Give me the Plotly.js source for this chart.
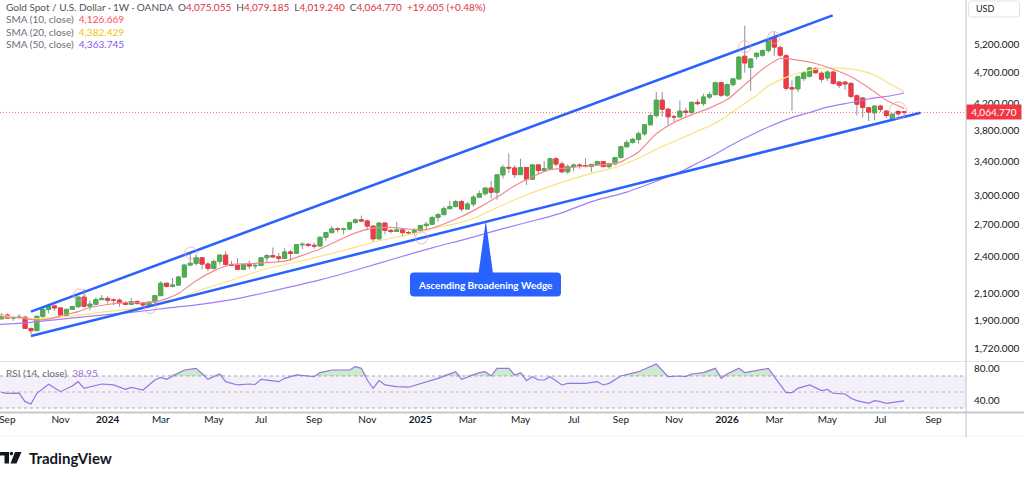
<!DOCTYPE html>
<html>
<head>
<meta charset="utf-8">
<script src="https://cdn.plot.ly/plotly-3.0.1.min.js"></script>
<style>
html,body{margin:0;padding:0;background:#ffffff;}
#chart{width:1024px;height:480px;}
</style>
</head>
<body>
<div id="chart"></div>
<script>
// ---------- DATA (weekly bars, index 0 = week of 28 Aug 2023) ----------
const opens = [1914,1940,1919,1924,1925,1848,1833,1932,1981,2006,1992,1940,1981,2001,2072,2004,2019,2053,2062,2049,
2049,2029,2018,2039,2024,2013,2035,2083,2179,2155,2165,2230,2329,2344,2392,2337,2301,2360,2415,2334,
2327,2293,2333,2322,2326,2392,2411,2400,2387,2443,2431,2508,2512,2503,2497,2577,2622,2658,2653,2657,
2721,2747,2736,2685,2563,2715,2643,2633,2648,2622,2621,2640,2690,2703,2770,2800,2861,2883,2936,2858,
2910,2984,3022,3085,3037,3237,3327,3319,3240,3325,3187,3357,3289,3310,3433,3368,3274,3337,3355,3350,
3337,3363,3398,3336,3371,3448,3586,3643,3685,3760,3886,4018,4251,4113,4002,4000,4084,4065,4218,4198,
4300,4338,4530,4330,4500,4595,4990,4790,4990,5010,5095,5340,5150,5000,4450,4430,4600,4640,4770,4690,
4610,4710,4540,4540,4520,4320,4285,4135,4060,4160,4085,3975,4080,4075.055];
const highs = [1953,1953,1933,1947,1936,1853,1933,1997,2009,2010,1993,1988,2008,2075,2135,2047,2070,2088,2078,2062,
2061,2041,2065,2049,2032,2041,2088,2195,2185,2222,2236,2330,2431,2418,2393,2354,2378,2422,2450,2364,
2388,2342,2368,2340,2393,2424,2484,2432,2477,2462,2509,2531,2525,2529,2586,2626,2686,2673,2670,2722,
2758,2790,2750,2686,2721,2721,2657,2726,2665,2638,2665,2697,2726,2786,2817,2886,2942,2955,2956,2930,
3004,3057,3086,3167,3245,3358,3500,3352,3435,3326,3366,3366,3403,3447,3452,3398,3365,3375,3375,3439,
3363,3409,3405,3379,3453,3600,3675,3707,3791,3897,4059,4381,4382,4135,4030,4245,4135,4230,4265,4353,
4380,4550,4550,4520,4610,4990,5580,4960,5060,5120,5320,5450,5190,5030,4570,4650,4730,4800,4800,4720,
4740,4740,4560,4560,4540,4340,4300,4150,4175,4180,4100,4045,4100,4079.185];
const lows = [1913,1915,1901,1913,1846,1810,1833,1908,1953,1970,1932,1931,1976,1993,1993,1973,2016,2050,2024,2013,
2002,2010,2016,2016,1984,2010,2024,2083,2146,2146,2163,2228,2325,2325,2292,2277,2291,2332,2325,2323,
2286,2287,2295,2293,2319,2353,2392,2353,2381,2364,2430,2470,2488,2472,2485,2546,2614,2624,2604,2646,
2708,2728,2643,2536,2563,2605,2613,2631,2583,2603,2596,2634,2656,2696,2730,2792,2860,2877,2832,2858,
2880,2982,3000,2970,2957,3194,3260,3202,3240,3120,3180,3245,3283,3294,3340,3255,3248,3283,3310,3325,
3268,3352,3331,3311,3351,3436,3578,3628,3630,3735,3884,3990,4004,3886,3930,3995,3997,4040,4170,4165,
4270,4330,4300,4300,4470,4590,4700,4400,4930,4980,5060,5000,4980,4400,4090,4380,4560,4620,4680,4540,
4560,4500,4440,4415,4280,4020,3990,3940,3950,4070,3980,3950,4010,4019.24];
const closes = [1940,1919,1924,1925,1848,1833,1932,1981,2006,1992,1940,1981,2001,2072,2004,2019,2053,2062,2049,2049,
2029,2018,2039,2024,2013,2035,2083,2179,2155,2165,2230,2329,2344,2392,2337,2301,2360,2415,2334,2327,
2293,2333,2322,2326,2392,2411,2400,2387,2443,2431,2508,2512,2503,2497,2577,2622,2658,2653,2657,2721,
2747,2736,2685,2563,2715,2643,2633,2648,2622,2621,2640,2690,2703,2770,2800,2861,2883,2936,2858,2910,
2984,3022,3085,3037,3237,3327,3319,3240,3325,3187,3357,3289,3310,3433,3368,3274,3337,3355,3350,3337,
3363,3398,3336,3371,3448,3586,3643,3685,3760,3886,4018,4251,4113,4002,4000,4084,4065,4218,4198,4300,
4338,4530,4330,4500,4595,4975,4870,4940,5045,5095,5290,5160,5010,4440,4430,4630,4700,4780,4700,4590,
4710,4520,4490,4510,4310,4190,4140,4070,4160,4110,4020,4040,4045.165,4064.77];

// time axis labels (bar index of first weekly bar of each labelled month)
const tickBars   = [1,10,18,27,36,44,53,62,71,79,88,97,105,114,123,131,140,149,158];
const tickLabels = ["Sep","Nov","<b>2024</b>","Mar","May","Jul","Sep","Nov","<b>2025</b>","Mar","May","Jul","Sep","Nov","<b>2026</b>","Mar","May","Jul","Sep"];

// price scale ticks
const priceTicks = [1720,1900,2100,2400,2700,3000,3400,3800,4200,4700,5200];

// moving averages (bar index, value)
const sma10Bars = [-0.25,3,6,8,10,13,15,18,21,24,27,30,33,36,39,42,45,48,51,54,57,60,63,66,69,72,75,78,81,84,87,90,93,96,99,102,105,108,111,114,117,120,123,126,129,132,135,138,141,144,147,150,153];
const sma10Vals = [1925,1922,1905,1912,1935,1965,1995,2017,2033,2030,2045,2100,2200,2280,2334,2341,2350,2363,2413,2470,2545,2620,2665,2672,2655,2650,2705,2780,2875,2985,3110,3215,3300,3320,3342,3360,3395,3520,3760,3920,4030,4130,4260,4500,4760,4950,4920,4860,4760,4630,4450,4250,4126.669];
const sma20Bars = [-0.25,5,11,17,22,28,34,40,44,50,56,61,64,67,70,73,77,80,83,89,95,100,104,108,112,115,118,120,122,125,128,130,133,136,139,142,145,148,151,153];
const sma20Vals = [1940,1915,1930,1962,1985,2030,2130,2220,2285,2355,2430,2500,2545,2580,2615,2660,2710,2760,2845,3010,3150,3255,3325,3440,3590,3690,3800,3870,3960,4140,4330,4480,4620,4720,4775,4780,4750,4660,4490,4382.429];
const sma50Bars = [-0.25,5,11,17,22,28,34,40,47,54,61,67,73,79,85,91,95,100,106,112,115,118,120,124,127,130,134,137,140,144,147,151,153];
const sma50Vals = [1875,1890,1915,1940,1960,1990,2020,2060,2130,2206,2300,2390,2480,2565,2660,2750,2818,2936,3040,3190,3270,3380,3450,3620,3740,3855,3990,4065,4145,4215,4270,4325,4363.745];

// RSI (14)
const rsiBars = [0,1,3,4,5,6,8,10,12,13,14,17,19,21,22,24,26,27,28,31,33,35,37,38,40,42,43,44,47,48,50,53,54,56,59,60,61,62,63,64,65,67,69,71,74,77,78,81,82,83,84,86,87,88,89,90,91,92,93,95,96,99,101,102,103,105,108,111,113,115,116,117,119,121,122,123,125,126,128,130,131,133,134,135,137,139,140,141,143,144,145,147,148,149,150,151,152,153];
const rsiVals = [49.5,48.4,48.6,37.9,35,48.4,59.6,50.4,57.5,62.9,54.6,60,58.8,53.3,55.8,52.5,65,68.3,65.8,77.5,79.6,65.8,72.5,62.9,58.8,60,59.4,65.8,62.9,67.1,71.3,69.2,74.2,77.5,77.5,81.7,79.6,65,54.6,64.2,58.8,56.7,56,60.8,67.1,75.4,65.8,74.2,75.4,70,79.6,79.6,71.3,74.2,64.2,69.2,65,65,69.2,58.8,60.8,60.8,62.9,58.8,60.8,70,75.4,85,69.2,70,69.2,72.5,74.2,79.6,67.1,72.5,79.6,74.2,76.7,79.6,69.2,49.2,49.2,54.6,58.8,51.7,53.3,48.4,47.5,42.1,39.2,35.8,39.2,38,35.8,37,37.5,38.95];

// drawn wedge trendlines (bar index, price)
const wedgeUpperBars = [5.0, 140.9];
const wedgeUpperPrices = [1965, 5793];
const wedgeLowerBars = [5.0, 155.8];
const wedgeLowerPrices = [1798, 4062];

// touch-point circles
const touchBars = [13.2, 25.2, 32.1, 71.2, 126.0, 130.9, 152.0];
const touchPrices = [2088, 1995, 2434, 2571, 5168, 5344, 4094];
const touchSizes = [12, 12, 12, 12, 12, 12, 17];

// ---------- helpers ----------
const fmt = (v, d) => v.toLocaleString('en-US', {minimumFractionDigits: d, maximumFractionDigits: d});
const PW = 966, PH = 412;                 // plot area in pixels
const fx = x => x / PW;
const fy = y => 1 - y / PH;
function roundRect(x0, y0, x1, y1, r) {
  const P = (x, y) => fx(x) + ',' + fy(y);
  return 'M' + P(x0 + r, y0) + ' L' + P(x1 - r, y0) + ' Q' + P(x1, y0) + ' ' + P(x1, y0 + r) +
         ' L' + P(x1, y1 - r) + ' Q' + P(x1, y1) + ' ' + P(x1 - r, y1) +
         ' L' + P(x0 + r, y1) + ' Q' + P(x0, y1) + ' ' + P(x0, y1 - r) +
         ' L' + P(x0, y0 + r) + ' Q' + P(x0, y0) + ' ' + P(x0 + r, y0) + ' Z';
}
function poly(pts) {
  return 'M' + pts.map(p => fx(p[0]) + ',' + fy(p[1])).join(' L') + ' Z';
}

const N = opens.length;
const idx = opens.map((_, i) => i);
const bodyHigh = opens.map((o, i) => Math.max(o, closes[i]));
const bodyLow = opens.map((o, i) => Math.min(o, closes[i]));
const last = N - 1;
const lastClose = closes[last];
const chg = lastClose - closes[last - 1];
const chgPct = chg / closes[last - 1] * 100;

const UP = '#4caf50', DN = '#ef3a45', WICK = '#8d9098';
const xr = [-0.25, 163.5];

const traces = [];
// wicks
traces.push({type: 'candlestick', x: idx, open: opens, high: highs, low: lows, close: closes,
  xaxis: 'x', yaxis: 'y', whiskerwidth: 0,
  increasing: {line: {color: WICK, width: 1}, fillcolor: WICK},
  decreasing: {line: {color: WICK, width: 1}, fillcolor: WICK}, hoverinfo: 'skip'});
// bodies
traces.push({type: 'candlestick', x: idx, open: opens, high: bodyHigh, low: bodyLow, close: closes,
  xaxis: 'x', yaxis: 'y', whiskerwidth: 0,
  increasing: {line: {color: UP, width: 1}, fillcolor: UP},
  decreasing: {line: {color: DN, width: 1}, fillcolor: DN}, hoverinfo: 'skip'});
// SMAs
traces.push({type: 'scatter', mode: 'lines', x: sma50Bars, y: sma50Vals, xaxis: 'x', yaxis: 'y',
  line: {color: '#a57cf7', width: 1.2, shape: 'spline', smoothing: 0.8}});
traces.push({type: 'scatter', mode: 'lines', x: sma20Bars, y: sma20Vals, xaxis: 'x', yaxis: 'y',
  line: {color: '#f9e37a', width: 1.2, shape: 'spline', smoothing: 0.8}});
traces.push({type: 'scatter', mode: 'lines', x: sma10Bars, y: sma10Vals, xaxis: 'x', yaxis: 'y',
  line: {color: '#f5878e', width: 1.2, shape: 'spline', smoothing: 0.6}});
// wedge
traces.push({type: 'scatter', mode: 'lines', x: wedgeUpperBars, y: wedgeUpperPrices, xaxis: 'x', yaxis: 'y',
  line: {color: '#2962ff', width: 2.6}});
traces.push({type: 'scatter', mode: 'lines', x: wedgeLowerBars, y: wedgeLowerPrices, xaxis: 'x', yaxis: 'y',
  line: {color: '#2962ff', width: 2.6}});
// current price line
traces.push({type: 'scatter', mode: 'lines', x: xr, y: [lastClose, lastClose], xaxis: 'x', yaxis: 'y',
  line: {color: 'rgba(242,54,69,0.65)', width: 1, dash: '1px,2px'}});
// touch circles
traces.push({type: 'scatter', mode: 'markers', x: touchBars, y: touchPrices, xaxis: 'x', yaxis: 'y',
  marker: {symbol: 'circle-open', size: touchSizes, color: '#f29a9c', line: {width: 1, color: '#f29a9c'}}});
// RSI
traces.push({type: 'scatter', mode: 'lines', x: rsiBars, y: rsiBars.map(() => 70), xaxis: 'x', yaxis: 'y2',
  line: {color: 'rgba(0,0,0,0)', width: 0}});
traces.push({type: 'scatter', mode: 'lines', x: rsiBars, y: rsiVals.map(v => Math.max(v, 70)), xaxis: 'x', yaxis: 'y2',
  fill: 'tonexty', fillcolor: 'rgba(76,175,80,0.28)', line: {color: 'rgba(0,0,0,0)', width: 0}});
traces.push({type: 'scatter', mode: 'lines', x: rsiBars, y: rsiVals, xaxis: 'x', yaxis: 'y2',
  line: {color: '#9575e0', width: 1.2}});

const FONT = 'Lato, "Open Sans", "DejaVu Sans", sans-serif';
const gray = '#6a6d78';
const vc = '#e0313f';
const SP = '\u00a0\u00a0';

const header = 'Gold Spot / U.S. Dollar · 1W · OANDA' + SP +
  'O<span style="color:' + vc + '">' + fmt(opens[last], 3) + '</span>' + SP +
  'H<span style="color:' + vc + '">' + fmt(highs[last], 3) + '</span>' + SP +
  'L<span style="color:' + vc + '">' + fmt(lows[last], 3) + '</span>' + SP +
  'C<span style="color:' + vc + '">' + fmt(lastClose, 3) + SP +
  (chg >= 0 ? '+' : '') + fmt(chg, 3) + ' (' + (chg >= 0 ? '+' : '') + fmt(chgPct, 2) + '%)</span>';

const legendRows = [
  ['SMA (10, close)', sma10Vals[sma10Vals.length - 1], '#f7525f'],
  ['SMA (20, close)', sma20Vals[sma20Vals.length - 1], '#f2c40f'],
  ['SMA (50, close)', sma50Vals[sma50Vals.length - 1], '#8257f0']
];
const rowY = [19.3, 31.7, 43.6];
const LF = 10;

const annotations = [];
annotations.push({xref: 'paper', yref: 'paper', x: fx(4), y: fy(6.8), xanchor: 'left', yanchor: 'middle',
  text: header, showarrow: false, font: {family: FONT, size: LF, color: '#4f525c'}});
legendRows.forEach((r, k) => annotations.push({xref: 'paper', yref: 'paper', x: fx(4), y: fy(rowY[k]),
  xanchor: 'left', yanchor: 'middle', showarrow: false,
  text: r[0] + SP + '<span style="color:' + r[2] + '">' + fmt(r[1], 3) + '</span>',
  font: {family: FONT, size: LF, color: gray}}));
annotations.push({xref: 'paper', yref: 'paper', x: fx(4), y: fy(372.5), xanchor: 'left', yanchor: 'middle',
  showarrow: false, text: 'RSI (14, close)' + SP + '<span style="color:#9575e0">' + fmt(rsiVals[rsiVals.length - 1], 2) + '</span>',
  font: {family: FONT, size: LF, color: gray}});
// last price label
annotations.push({xref: 'paper', yref: 'y', x: 1, y: Math.log10(lastClose), xanchor: 'left', yanchor: 'middle',
  showarrow: false, text: fmt(lastClose, 3), bgcolor: '#f23645', width: 52, height: 12, borderpad: 1,
  font: {family: FONT, size: 10, color: '#ffffff'}});
// callout text
annotations.push({xref: 'paper', yref: 'paper', x: fx(485.5), y: fy(284.5), xanchor: 'center', yanchor: 'middle',
  showarrow: false, text: '<b>Ascending Broadening Wedge</b>', font: {family: FONT, size: 10, color: '#ffffff'}});
// USD
annotations.push({xref: 'paper', yref: 'paper', x: fx(974), y: fy(8.5), xanchor: 'left', yanchor: 'middle',
  showarrow: false, text: 'USD', font: {family: FONT, size: 9, color: '#131722'}});
// brand
annotations.push({xref: 'paper', yref: 'paper', x: fx(27), y: fy(457.5), xanchor: 'left', yanchor: 'middle',
  showarrow: false, text: '<b>TradingView</b>', font: {family: FONT, size: 15, color: '#131722'}});

const shapes = [
  // RSI band
  {type: 'rect', xref: 'paper', yref: 'y2', x0: 0, x1: 1, y0: 30, y1: 70, fillcolor: 'rgba(126,87,194,0.09)', line: {width: 0}, layer: 'below'},
  {type: 'line', xref: 'paper', yref: 'y2', x0: 0, x1: 1, y0: 70, y1: 70, line: {color: '#a3a6ae', width: 1, dash: '3px,3px'}, layer: 'below'},
  {type: 'line', xref: 'paper', yref: 'y2', x0: 0, x1: 1, y0: 50, y1: 50, line: {color: '#b8bbc2', width: 1, dash: '3px,3px'}, layer: 'below'},
  {type: 'line', xref: 'paper', yref: 'y2', x0: 0, x1: 1, y0: 30, y1: 30, line: {color: '#a3a6ae', width: 1, dash: '3px,3px'}, layer: 'below'},
  // separators
  {type: 'line', xref: 'paper', yref: 'paper', x0: fx(0), x1: fx(1024), y0: fy(361.5), y1: fy(361.5), line: {color: '#e0e3eb', width: 1}},
  {type: 'line', xref: 'paper', yref: 'paper', x0: fx(0), x1: fx(1024), y0: fy(412.5), y1: fy(412.5), line: {color: '#c5c8ce', width: 2}},
  {type: 'line', xref: 'paper', yref: 'paper', x0: fx(0), x1: fx(1024), y0: fy(436), y1: fy(436), line: {color: '#eef0f3', width: 1}},
  {type: 'line', xref: 'paper', yref: 'paper', x0: fx(966), x1: fx(966), y0: fy(0), y1: fy(437), line: {color: '#bfc2c8', width: 1}},
  // callout
  {type: 'path', xref: 'paper', yref: 'paper', path: roundRect(410, 272.5, 561, 296.5, 4), fillcolor: '#2962ff', line: {width: 0}},
  {type: 'path', xref: 'paper', yref: 'paper', path: poly([[478.5, 273.5], [485.8, 221], [493, 273.5]]), fillcolor: '#2962ff', line: {width: 0}},
  // USD box
  {type: 'path', xref: 'paper', yref: 'paper', path: roundRect(968.5, 1, 1019.5, 17, 3), fillcolor: 'rgba(0,0,0,0)', line: {color: '#e0e3eb', width: 1}},
  // brand mark
  {type: 'path', xref: 'paper', yref: 'paper', path: poly([[0, 452], [9, 452], [9, 463.5], [4.5, 463.5], [4.5, 455.5], [0, 455.5]]), fillcolor: '#131722', line: {width: 0}},
  {type: 'circle', xref: 'paper', yref: 'paper', x0: fx(9.6), x1: fx(13.2), y0: fy(451.8), y1: fy(455.4), fillcolor: '#131722', line: {width: 0}},
  {type: 'path', xref: 'paper', yref: 'paper', path: poly([[15, 452], [21.5, 452], [16.5, 463.5], [10.5, 463.5]]), fillcolor: '#131722', line: {width: 0}}
];

const layout = {
  width: 1024, height: 480,
  margin: {l: 0, r: 58, t: 0, b: 68, pad: 0},
  paper_bgcolor: '#ffffff', plot_bgcolor: '#ffffff',
  showlegend: false, hovermode: false,
  boxmode: 'overlay', boxgap: 0.32, boxgroupgap: 0,
  font: {family: FONT, size: 10, color: '#131722'},
  xaxis: {domain: [0, 1], range: xr, anchor: 'y2', tickmode: 'array', tickvals: tickBars, ticktext: tickLabels,
    showgrid: false, zeroline: false, showline: false, ticks: '', ticklabeloverflow: 'allow',
    tickfont: {family: FONT, size: 10, color: '#131722'},
    rangeslider: {visible: false}},
  yaxis: {type: 'log', domain: [50 / 412, 1], range: [Math.log10(1635), Math.log10(6128)], side: 'right', anchor: 'x',
    tickmode: 'array', tickvals: priceTicks, ticktext: priceTicks.map(v => fmt(v, 3)),
    showgrid: false, zeroline: false, showline: false, ticks: 'outside', ticklen: 5, tickcolor: 'rgba(0,0,0,0)',
    tickfont: {family: FONT, size: 10, color: '#131722'}},
  yaxis2: {domain: [0, 50 / 412], range: [25, 87.5], side: 'right', anchor: 'x',
    tickmode: 'array', tickvals: [40, 80], ticktext: ['40.00', '80.00'],
    showgrid: false, zeroline: false, showline: false, ticks: 'outside', ticklen: 5, tickcolor: 'rgba(0,0,0,0)',
    tickfont: {family: FONT, size: 10, color: '#131722'}},
  shapes: shapes,
  annotations: annotations
};

Plotly.newPlot('chart', traces, layout, {displayModeBar: false, staticPlot: true});
</script>
</body>
</html>
